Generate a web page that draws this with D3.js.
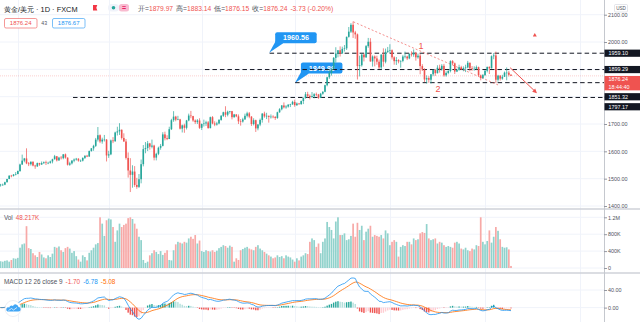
<!DOCTYPE html>
<html><head><meta charset="utf-8">
<script src="https://cdn.jsdelivr.net/npm/d3@7"></script>
<style>body{margin:0;background:#fff}svg{display:block}text{font-family:"Liberation Sans",Arial,sans-serif}</style>
</head><body><svg id="c" width="640" height="322"></svg>
<script>
// ---- DATA (XAU/USD daily, FXCM, 2019-12-19 .. 2020-11-18) ----
const opens=[
1476,1478,1478,1487,1499,1511,1510,1515,
1517,1528,1552,1566,1574,1556,1553,1562,1548,1545,1557,1552,1557,1560,1558,1558,1563,1571,1582,1567,1577,1575,
1589,1577,1551,1556,1566,1570,1573,1566,1566,1576,1584,1581,1601,1611,1620,1643,1659,1636,1643,1643,
1585,1589,1640,1637,1669,1673,1679,1649,1636,1576,1530,1514,1526,1477,1470,1498,1553,1608,1612,1629,1617,1621,
1577,1591,1613,1620,1662,1648,1645,1681,1714,1727,1716,1717,1683,1695,1686,1713,1731,1729,1713,1707,1713,
1686,1700,1702,1706,1685,1725,1702,1698,1702,1715,1730,1743,1734,1745,1747,1725,1735,1728,1710,1709,1717,
1730,1739,1727,1700,1714,1684,1698,1715,1738,1728,1730,1726,1727,1726,1722,1743,1754,1768,1761,1764,1771,1772,
1781,1769,1775,1773,1784,1795,1809,1803,1798,1802,1809,1808,1796,1811,1818,1842,1871,1887,1902,1942,1958,1970,1958,
1975,1977,2019,2038,2063,2035,2028,1912,1915,1954,1944,1985,2001,1929,1947,1940,1928,1907,1954,1928,1964,
1968,1970,1944,1930,1934,1929,1931,1947,1947,1940,1957,1954,1960,1944,1950,1912,1900,1863,1868,1862,1882,1898,
1886,1906,1900,1913,1878,1887,1894,1930,1922,1892,1898,1908,1900,1905,1907,1924,1904,1902,1902,1908,1878,1868,
1879,1895,1909,1904,1948,1951,1862,1877,1866,1873,1888,1888,1879.97];
const highs=[
1481,1482,1489,1499,1512,1514,1517,1524,
1530,1555,1588,1576,1611,1561,1563,1563,1551,1559,1558,1563,1563,1566,1562,1566,1573,1587,1583,1580,1583,1590,
1592,1578,1562,1568,1574,1576,1575,1570,1578,1585,1587,1603,1612,1624,1649,1689,1662,1650,1660,1645,
1602,1643,1652,1672,1690,1703,1680,1666,1645,1596,1575,1549,1546,1503,1517,1570,1623,1634,1638,1631,1643,1624,
1595,1617,1627,1670,1672,1659,1690,1719,1747,1730,1730,1719,1698,1701,1715,1738,1748,1730,1717,1718,1721,
1702,1716,1712,1711,1727,1729,1710,1708,1718,1733,1745,1765,1749,1748,1748,1737,1736,1735,1718,1723,1738,
1745,1744,1729,1721,1716,1700,1720,1740,1745,1741,1731,1735,1732,1729,1745,1758,1769,1779,1769,1772,1774,1785,
1789,1779,1777,1786,1797,1817,1818,1808,1817,1813,1815,1810,1814,1820,1844,1873,1898,1904,1945,1981,1970,1984,1983,
1989,2020,2055,2069,2075,2041,2031,1950,1958,1958,1989,2015,2014,1951,1951,1950,1936,1955,1977,1976,1982,
1992,1973,1948,1945,1937,1933,1952,1965,1950,1958,1966,1973,1964,1958,1956,1919,1904,1878,1875,1882,1900,1901,
1915,1917,1919,1920,1893,1897,1933,1934,1925,1903,1917,1913,1911,1917,1931,1925,1912,1911,1914,1910,1881,1883,
1897,1910,1911,1951,1960,1965,1880,1879,1880,1892,1907,1894,1883.14];
const lows=[
1471,1474,1476,1486,1498,1505,1508,1512,
1516,1525,1550,1560,1553,1546,1548,1545,1536,1543,1547,1550,1554,1550,1553,1555,1556,1570,1563,1565,1570,1571,
1573,1548,1547,1552,1560,1566,1562,1561,1563,1572,1579,1580,1599,1602,1616,1636,1630,1628,1636,1563,
1576,1586,1630,1635,1658,1660,1643,1635,1570,1504,1451,1467,1470,1463,1466,1483,1545,1593,1601,1606,1611,1567,
1567,1586,1606,1618,1640,1641,1645,1678,1708,1710,1714,1680,1669,1668,1680,1710,1721,1708,1700,1700,1682,
1678,1691,1693,1683,1684,1699,1692,1694,1699,1712,1726,1725,1728,1738,1717,1723,1725,1700,1694,1705,1715,
1724,1721,1693,1695,1671,1677,1692,1705,1723,1718,1705,1720,1721,1715,1719,1741,1750,1757,1756,1760,1762,1770,
1763,1766,1770,1770,1773,1793,1796,1790,1797,1794,1802,1792,1795,1807,1816,1838,1865,1877,1900,1925,1944,1947,1958,
1965,1971,2016,2033,2015,2012,1863,1874,1910,1929,1942,1979,1928,1910,1911,1917,1901,1900,1910,1922,1960,
1960,1936,1917,1916,1922,1906,1926,1940,1934,1937,1947,1946,1932,1939,1882,1894,1854,1848,1851,1848,1875,1876,
1885,1888,1895,1873,1873,1882,1889,1916,1883,1890,1895,1898,1893,1890,1904,1893,1895,1895,1899,1875,1860,1866,
1876,1889,1883,1903,1937,1850,1855,1859,1862,1872,1860,1874,1876.15];
const closes=[
1478,1478,1487,1499,1511,1510,1515,1517,
1528,1552,1566,1574,1556,1553,1562,1548,1545,1557,1552,1557,1560,1558,1558,1563,1571,1582,1567,1577,1575,1589,
1577,1551,1556,1566,1570,1573,1566,1566,1576,1584,1581,1601,1611,1620,1643,1659,1636,1643,1643,1585,
1589,1640,1637,1669,1673,1679,1649,1636,1576,1530,1514,1526,1477,1470,1498,1553,1608,1612,1629,1617,1621,1577,
1591,1613,1620,1662,1648,1645,1681,1714,1727,1716,1717,1683,1695,1686,1713,1731,1729,1713,1707,1713,1686,
1700,1702,1706,1685,1725,1702,1698,1702,1715,1730,1743,1734,1745,1747,1725,1735,1728,1710,1709,1717,1730,
1739,1727,1700,1714,1684,1698,1715,1738,1728,1730,1726,1727,1726,1722,1743,1754,1768,1761,1764,1771,1772,1781,
1769,1775,1773,1784,1795,1809,1803,1798,1802,1809,1808,1796,1811,1818,1842,1871,1887,1902,1942,1958,1970,1958,1975,
1977,2019,2038,2063,2035,2028,1912,1915,1954,1944,1985,2001,1929,1947,1940,1928,1907,1954,1928,1964,1968,
1970,1944,1930,1934,1929,1931,1947,1947,1940,1957,1954,1960,1944,1950,1912,1900,1863,1868,1862,1882,1898,1886,
1906,1900,1913,1878,1887,1894,1930,1922,1892,1898,1908,1900,1905,1907,1924,1904,1902,1902,1908,1878,1868,1879,
1895,1909,1904,1948,1951,1862,1877,1866,1873,1888,1888,1879.97,1876.24];
// volume in thousands
const volumes=[
160,150,170,180,150,190,230,220,
240,480,560,580,990,470,450,350,300,260,380,320,250,230,300,260,340,500,480,510,420,380,
470,500,460,360,400,280,200,150,300,260,180,360,420,480,560,590,1200,1050,760,1130,
1170,1150,970,620,890,1050,970,1020,1050,1180,1200,1160,1050,930,740,660,190,120,150,300,350,420,
380,330,400,310,360,420,190,180,420,560,620,600,580,620,600,700,740,690,780,580,650,
400,380,420,400,390,420,380,410,470,500,540,520,480,530,500,150,230,190,420,450,480,
500,460,440,420,500,540,460,420,380,340,300,270,230,250,300,260,280,230,300,270,250,200,
150,230,180,270,300,350,330,620,700,660,500,580,350,620,700,1090,970,900,700,1100,1200,780,780,
820,660,680,760,1050,740,1070,900,1000,660,860,930,1000,740,780,760,740,780,700,890,820,
540,620,660,620,270,500,540,520,620,620,560,700,660,680,820,850,830,1040,700,660,680,700,
580,620,600,540,500,520,500,480,600,620,580,460,440,480,420,400,460,440,540,520,1200,620,
560,640,890,600,740,970,880,680,500,480,490,440,48.217];
const monthStartIdx=[8,50,93,136,180,224,268];
const priceTicks=[1400,1500,1600,1700,1800,1900,2000,2100];
const volTicks=[0,400,800,1200];
const volTickLabels=["0","400K","800K","1.2M"];
const macdTicks=[0,40];
// horizontal drawing levels: [price, start bar index]
const levels=[[1959.10,124.4],[1899.29,94.5],[1851.32,136.2],[1797.17,33.5]];
const callouts=[[124.2,1960.56,"1960.56"],[136.1,1849.86,"1849.86"]];
const trend=[[163.1,2074],[230,1843]];
const arrowPts=[[235.6,1906],[248,1813]];
const header={sym:"黄金/美元 · 1D · FXCM",o:"1879.97",h:"1883.14",l:"1876.15",c:"1876.24",chg:"-3.73 (-0.20%)",bid:"1876.24",spr:"43",ask:"1876.67"};
const macdVals=["-1.70","-6.78","-5.08"];
const volVal="48.217K";
const countdown="18:44:40";

// ---- CHART ----
const UP="#26a69a", DN="#ef5350";
const svg=d3.select("#c");
const N=closes.length;
const AX=604;
const x=d3.scaleLinear().domain([0,236]).range([0.55,511]);
const yP=d3.scaleLinear().domain([1400,2100]).range([206,14.7]);
const yV=d3.scaleLinear().domain([0,1200]).range([268,217.3]);
const yM=d3.scaleLinear().domain([0,40]).range([307.6,290]);
const defs=svg.append("defs");
function clip(id,y0,y1){defs.append("clipPath").attr("id",id).append("rect").attr("x",0).attr("y",y0).attr("width",AX).attr("height",y1-y0);}
clip("cp",0,208.5);clip("cv",209.5,272.5);clip("cm",273.5,322);

const grid=svg.append("g").attr("stroke","#f0f3fa").attr("stroke-width",1);
monthStartIdx.forEach(i=>grid.append("line").attr("x1",Math.round(x(i))+.5).attr("x2",Math.round(x(i))+.5).attr("y1",0).attr("y2",322));
priceTicks.forEach(v=>grid.append("line").attr("x1",0).attr("x2",AX).attr("y1",yP(v)).attr("y2",yP(v)));
volTicks.forEach(v=>grid.append("line").attr("x1",0).attr("x2",AX).attr("y1",yV(v)).attr("y2",yV(v)));
macdTicks.forEach(v=>grid.append("line").attr("x1",0).attr("x2",AX).attr("y1",yM(v)).attr("y2",yM(v)));

// price pane
const gp=svg.append("g").attr("clip-path","url(#cp)");
gp.append("line").attr("x1",0).attr("x2",AX).attr("y1",yP(closes[N-1])).attr("y2",yP(closes[N-1])).attr("stroke",DN).attr("stroke-opacity",.35).attr("stroke-width",.8).attr("stroke-dasharray","1,1");
callouts.forEach(([i,p,t])=>{
  const ax=x(i), ay=yP(p), bx=ax+6, by=ay-20.5, bw=41.5, bh=11;
  gp.append("path").attr("d",`M${ax},${ay}L${bx+1},${by+bh-3}L${bx+8},${by+bh}Z`).attr("fill","#2196f3");
  gp.append("rect").attr("x",bx).attr("y",by).attr("width",bw).attr("height",bh).attr("rx",2).attr("fill","#2196f3");
  gp.append("text").attr("x",bx+bw/2).attr("y",by+bh/2+2.5).attr("text-anchor","middle").attr("fill","#fff").attr("font-size",7.2).attr("font-weight",700).text(t);
});
levels.forEach(([p,i])=>gp.append("line").attr("x1",x(i)).attr("x2",AX).attr("y1",yP(p)).attr("y2",yP(p)).attr("stroke","#131722").attr("stroke-width",1).attr("stroke-dasharray","4.5,3"));
gp.append("line").attr("x1",x(trend[0][0])).attr("y1",yP(trend[0][1])).attr("x2",x(trend[1][0])).attr("y2",yP(trend[1][1])).attr("stroke",DN).attr("stroke-width",.8).attr("stroke-dasharray","2,2").attr("opacity",.8);
const cg=gp.append("g");
for(let i=0;i<N;i++){
  const c=closes[i]>=opens[i]?UP:DN, cx=x(i);
  cg.append("line").attr("x1",cx).attr("x2",cx).attr("y1",yP(highs[i])).attr("y2",yP(lows[i])).attr("stroke",c).attr("stroke-width",.7);
  const t=yP(Math.max(opens[i],closes[i])), b=yP(Math.min(opens[i],closes[i]));
  cg.append("rect").attr("x",cx-.8).attr("width",1.6).attr("y",t).attr("height",Math.max(.6,b-t)).attr("fill",c);
}
gp.append("text").attr("x",x(194.4)).attr("y",yP(1985.5)+3).attr("fill",DN).attr("font-size",9).attr("text-anchor","middle").text("1");
gp.append("text").attr("x",x(202.3)).attr("y",yP(1828)+3).attr("fill",DN).attr("font-size",9).attr("text-anchor","middle").text("2");
{const [a,b]=arrowPts;const x1=x(a[0]),y1=yP(a[1]),x2=x(b[0]),y2=yP(b[1]);
 const ang=Math.atan2(y2-y1,x2-x1), L=4.5, w=2.2;
 gp.append("line").attr("x1",x1).attr("y1",y1).attr("x2",x2-Math.cos(ang)*2).attr("y2",y2-Math.sin(ang)*2).attr("stroke",DN).attr("stroke-width",1);
 const px=x2-Math.cos(ang)*L, py=y2-Math.sin(ang)*L;
 gp.append("path").attr("d",`M${x2},${y2}L${px-Math.sin(ang)*w},${py+Math.cos(ang)*w}L${px+Math.sin(ang)*w},${py-Math.cos(ang)*w}Z`).attr("fill",DN);}
{const tx=x(247), ty=yP(2026);
 gp.append("path").attr("d",`M${tx},${ty-2}L${tx+2},${ty+1.5}L${tx-2},${ty+1.5}Z`).attr("fill",DN);}

// volume pane
const gv=svg.append("g").attr("clip-path","url(#cv)");
for(let i=0;i<N;i++){
  const up=closes[i]>=opens[i];
  gv.append("rect").attr("x",x(i)-.85).attr("width",1.7).attr("y",yV(volumes[i])).attr("height",yV(0)-yV(volumes[i])).attr("fill",up?"#91d2cc":"#f7a9a7");
}

// MACD (computed from closes)
function ema(a,n){const k=2/(n+1);const o=[];let e=a[0];a.forEach((v,i)=>{e=i?v*k+e*(1-k):v;o.push(e);});return o;}
const e12=ema(closes,12), e26=ema(closes,26);
const macd=e12.map((v,i)=>v-e26[i]);
const sig=ema(macd,9);
const hist=macd.map((v,i)=>v-sig[i]);
const gm=svg.append("g").attr("clip-path","url(#cm)");
for(let i=0;i<N;i++){
  const h=hist[i], p=i?hist[i-1]:h;
  const col=h>=0?(h>=p?"#26a69a":"#b2dfdb"):(h>=p?"#ffcdd2":"#ef5350");
  const y0=yM(0), y1=yM(h);
  gm.append("rect").attr("x",x(i)-.7).attr("width",1.4).attr("y",Math.min(y0,y1)).attr("height",Math.max(.4,Math.abs(y1-y0))).attr("fill",col);
}
const ln=d3.line().x((d,i)=>x(i)).y(d=>yM(d));
gm.append("path").attr("d",ln(sig)).attr("fill","none").attr("stroke","#ff6d00").attr("stroke-width",.8);
gm.append("path").attr("d",ln(macd)).attr("fill","none").attr("stroke","#2196f3").attr("stroke-width",.8);

// separators and axis line
svg.append("line").attr("x1",0).attr("x2",640).attr("y1",209).attr("y2",209).attr("stroke","#cfd2d8").attr("stroke-width",1.3);
svg.append("line").attr("x1",0).attr("x2",640).attr("y1",273).attr("y2",273).attr("stroke","#cfd2d8").attr("stroke-width",1.3);
svg.append("line").attr("x1",AX+.5).attr("x2",AX+.5).attr("y1",0).attr("y2",322).attr("stroke","#c5c8ce").attr("stroke-width",1);

function styleAxis(g){g.select(".domain").remove();g.selectAll("line").attr("stroke","#9598a1");g.selectAll("text").attr("fill","#50535e").attr("font-size",5.4).attr("font-family","Liberation Sans, Arial, sans-serif").attr("x",4);}
svg.append("g").attr("transform",`translate(${AX},0)`).call(d3.axisRight(yP).tickValues(priceTicks).tickSize(3).tickFormat(d3.format(".2f"))).call(styleAxis);
svg.append("g").attr("transform",`translate(${AX},0)`).call(d3.axisRight(yV).tickValues(volTicks).tickSize(3).tickFormat((d,i)=>volTickLabels[i])).call(styleAxis);
svg.append("g").attr("transform",`translate(${AX},0)`).call(d3.axisRight(yM).tickValues(macdTicks).tickSize(3).tickFormat(d3.format(".2f"))).call(styleAxis);

const rl=[{v:1959.10,t:["1959.10"],c:"#131722"},{v:1899.29,t:["1899.29"],c:"#131722"},{v:closes[N-1],t:[d3.format(".2f")(closes[N-1]),countdown],c:"#ef5350"},{v:1851.32,t:["1851.32"],c:"#131722"},{v:1797.17,t:["1797.17"],c:"#131722"}];
let prevB=-99;
rl.forEach(r=>{const h=7.2*r.t.length;let top=yP(r.v)-3.6;if(top<prevB+2.8)top=prevB+2.8;prevB=top+h;
  svg.append("rect").attr("x",AX+.5).attr("y",top).attr("width",36).attr("height",h).attr("fill",r.c);
  r.t.forEach((s,k)=>svg.append("text").attr("x",AX+4.5).attr("y",top+3.6+7.2*k+1.9).attr("fill","#fff").attr("font-size",5.4).text(s));});
svg.append("rect").attr("x",614.5).attr("y",4.5).attr("width",13).attr("height",7.5).attr("rx",1).attr("fill","#fff").attr("stroke","#d1d4dc").attr("stroke-width",.6);
svg.append("text").attr("x",621).attr("y",10).attr("text-anchor","middle").attr("font-size",4.6).attr("fill","#50535e").text("USD");

// header
const hd=svg.append("g");
hd.append("text").attr("x",4).attr("y",12).attr("font-size",7.4).attr("fill","#131722").attr("font-family","Noto Sans CJK SC, sans-serif").text(header.sym);
hd.append("path").attr("d","M93,5h4.3l-1,2.7l1,2.8h-4.3z").attr("fill","#f23645");
hd.append("rect").attr("x",108).attr("y",4).attr("width",11).attr("height",7.6).attr("rx",3.5).attr("fill","#f0f3fa");
hd.append("circle").attr("cx",113.5).attr("cy",7.8).attr("r",1.8).attr("fill","#26a69a");
hd.append("rect").attr("x",119).attr("y",4).attr("width",10).attr("height",7.6).attr("rx",2.5).attr("fill","#f8bbd0");
hd.append("text").attr("x",124).attr("y",10.3).attr("text-anchor","middle").attr("font-size",7).attr("fill","#e91e63").attr("font-weight",700).text("=");
const ohlc=hd.append("text").attr("x",138).attr("y",11).attr("font-size",6.7).attr("font-family","Noto Sans CJK SC, sans-serif");
[["开=",header.o],["高=",header.h],["低=",header.l],["收=",header.c]].forEach(([a,b],k)=>{
  ohlc.append("tspan").attr("fill","#50535e").attr("dx",k?3:0).text(a);
  ohlc.append("tspan").attr("fill",DN).text(b);});
ohlc.append("tspan").attr("fill",DN).attr("dx",3).text(header.chg);
hd.append("rect").attr("x",4.5).attr("y",18.5).attr("width",32.5).attr("height",9.5).attr("rx",1.5).attr("fill","#fff").attr("stroke",DN).attr("stroke-width",.6);
hd.append("text").attr("x",20.7).attr("y",25.3).attr("text-anchor","middle").attr("font-size",6).attr("fill",DN).text(header.bid);
hd.append("text").attr("x",44.2).attr("y",25.3).attr("text-anchor","middle").attr("font-size",5.2).attr("fill","#50535e").text(header.spr);
hd.append("rect").attr("x",52.5).attr("y",18.5).attr("width",32.5).attr("height",9.5).attr("rx",1.5).attr("fill","#fff").attr("stroke","#2196f3").attr("stroke-width",.6);
hd.append("text").attr("x",68.7).attr("y",25.3).attr("text-anchor","middle").attr("font-size",6).attr("fill","#2196f3").text(header.ask);

const vl=svg.append("text").attr("x",4).attr("y",220).attr("font-size",6.3);
vl.append("tspan").attr("fill","#50535e").text("Vol");
vl.append("tspan").attr("fill",DN).attr("dx",3).text(volVal);
const ml=svg.append("text").attr("x",4).attr("y",284).attr("font-size",6.4);
ml.append("tspan").attr("fill","#50535e").text("MACD 12 26 close 9");
ml.append("tspan").attr("fill",DN).attr("dx",3).text(macdVals[0]);
ml.append("tspan").attr("fill","#2196f3").attr("dx",3).text(macdVals[1]);
ml.append("tspan").attr("fill","#ff6d00").attr("dx",3).text(macdVals[2]);

const lg=svg.append("g");
lg.append("circle").attr("cx",13).attr("cy",308.5).attr("r",8).attr("fill","#fff").attr("stroke","#e0e3eb").attr("stroke-width",.6);
lg.append("path").attr("d","M7.5,311.5h11a2.2,2.2 0 0 0 0,-4.4a3,3 0 0 0 -5.6,-1.2a2.3,2.3 0 0 0 -3.6,1.6a2,2 0 0 0 -1.8,4z").attr("fill","#2196f3").attr("opacity",.85);
lg.append("path").attr("d","M8.5,310.5l3,-2l2,1.5l3.5,-2.5").attr("fill","none").attr("stroke","#fff").attr("stroke-width",.7);
</script></body></html>
